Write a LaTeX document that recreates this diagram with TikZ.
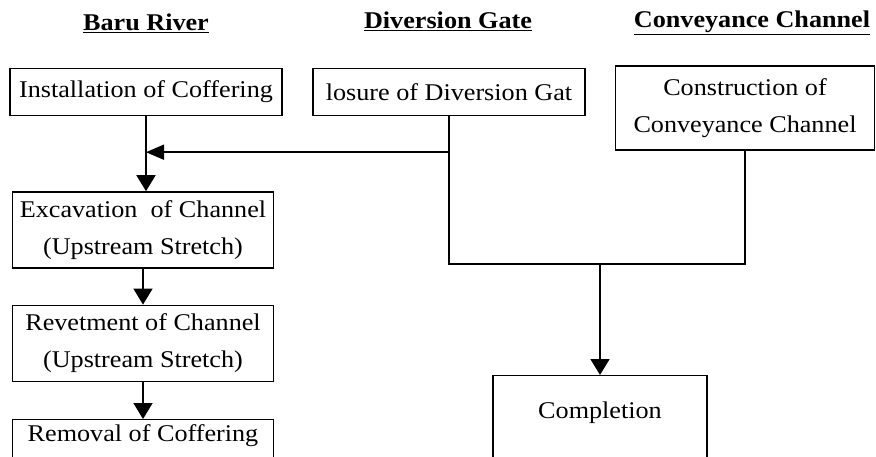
\documentclass[tikz,border=0pt]{standalone}
\usepackage{fontspec}
\setmainfont{Liberation Serif}[FakeStretch=1.09]
\usetikzlibrary{arrows.meta,positioning}

\begin{document}
\begin{tikzpicture}[x=1pt,y=-1pt,>={Triangle[length=16pt,width=19pt]},
                    line width=1.7pt,font=\fontsize{24}{37}\selectfont,
                    task/.style={draw,line width=1.4pt,align=center,inner sep=0pt},
                    head/.style={anchor=base,inner sep=0pt,font=\fontsize{24}{28}\selectfont\bfseries}]
  \path[use as bounding box,clip] (0,0) rectangle (876,457);

  % column heads
  \node[head] (hRiver) at (146,31) {\underline{Baru River}};
  \node[head] (hGate)  at (448,29) {\underline{Diversion Gate}};
  \node[head] (hChan)  at (752,28) {\underline{Conveyance Channel}};

  \node[task,minimum width=272pt,minimum height=47pt] (inst) at (146,92)  {Installation of Coffering};
  \node[task,minimum width=272pt,minimum height=47pt] (clos) at (449,92)  {losure of Diversion Gat};
  \node[task,minimum width=259pt,minimum height=84pt] (cons) at (745,108) {Construction of\\Conveyance Channel};
  \node[task,minimum width=261pt,minimum height=76pt] (exc)  [below=75pt of inst,xshift=-3pt] {Excavation\ \ of Channel\\(Upstream Stretch)};
  \node[task,minimum width=261pt,minimum height=76pt] (rev)  [below=36pt of exc] {Revetment of Channel\\(Upstream Stretch)};
  \node[task,minimum width=261pt,text height=22pt,text depth=50pt] (rem) [below=37pt of rev] {Removal of Coffering};
  \node[task,minimum width=214pt,text height=43pt,text depth=45pt,anchor=north] (comp) at (600,375) {Completion};

  \coordinate (gate) at ([yshift=-36pt]clos.south);
  \coordinate (join) at ([yshift=-148pt]clos.south);

  \draw[->] (inst.south) -- (inst.south |- exc.north);
  \draw[->] (exc) -- (rev);
  \draw[->] (rev) -- (rem);
  \draw (clos.south) -- (join) -| (cons.south);
  \draw[->,>={Triangle[length=18pt,width=15pt]}] (gate) -- (gate -| inst.south);
  \draw[->] (join -| comp.north) -- (comp.north);
\end{tikzpicture}
\end{document}
